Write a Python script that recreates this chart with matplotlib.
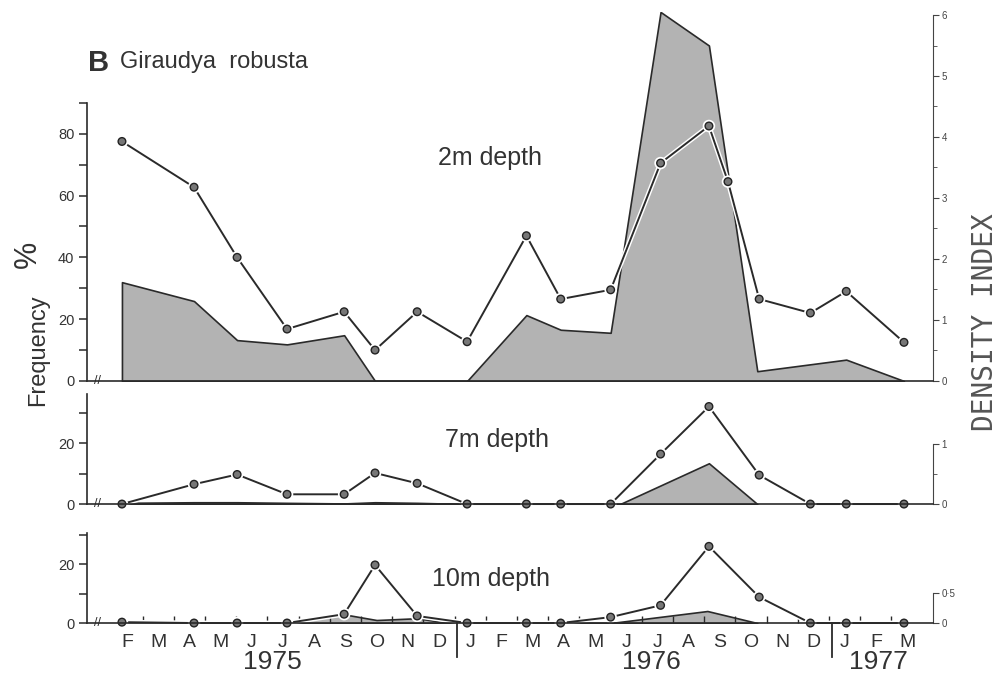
import matplotlib.pyplot as plt
import matplotlib.patheffects as pe
from matplotlib.ticker import FixedLocator, FuncFormatter

plt.rcParams['font.family'] = ['Liberation Sans', 'DejaVu Sans']

# x positions are month indices: 0 = Feb 1975 ... 25 = Mar 1977
month_letters = list("FMAMJJASONDJFMAMJJASONDJFM")
years = ['1975', '1976', '1977']
year_centres = [4.65, 16.8, 24.07]
year_breaks = [10.58, 22.6]

# sampling dates (month index)
sample_month = [-0.16, 2.15, 3.53, 5.13, 6.96, 7.95, 9.3, 10.9, 12.8,
                13.9, 15.5, 17.1, 18.65, 20.26, 21.9, 23.05, 24.9]

# 2m depth: frequency % (line) and density index (shaded)
freq_2m_month = [-0.16, 2.15, 3.53, 5.13, 6.96, 7.95, 9.3, 10.9, 12.8,
                 13.9, 15.5, 17.1, 18.65, 19.26, 20.26, 21.9, 23.05, 24.9]
freq_2m = [77.5, 62.7, 40, 16.8, 22.4, 10, 22.4, 12.7, 47,
           26.5, 29.5, 70.5, 82.5, 64.5, 26.5, 22, 29, 12.5]
dens_2m_month = [-0.16, 2.15, 3.53, 5.13, 6.96, 7.95, 10.9, 12.8, 13.9,
                 15.5, 17.1, 18.65, 20.2, 23.05, 24.9]
dens_2m = [1.62, 1.31, 0.67, 0.6, 0.75, 0, 0, 1.08, 0.84,
           0.79, 6.05, 5.5, 0.16, 0.35, 0]

# 7m depth
freq_7m = [0, 6.5, 9.7, 3.2, 3.2, 10.2, 6.8, 0, 0,
           0, 0, 16.4, 32, 9.5, 0, 0, 0]
dens_7m_month = [-0.16, 2.15, 3.53, 5.13, 6.96, 7.95, 9.3, 10.9, 15.8, 18.65, 20.2]
dens_7m = [0.02, 0.03, 0.03, 0.02, 0.01, 0.03, 0.02, 0, 0, 0.68, 0]

# 10m depth
freq_10m = [0.3, 0, 0, 0, 3, 19.7, 2.4, 0, 0,
            0, 2, 6, 26, 8.8, 0, 0, 0]
dens_10m_month = [5.1, 6.9, 8.0, 9.3, 10.3, 15.5, 18.6, 20.2]
dens_10m = [0, 0.15, 0.05, 0.08, 0, 0, 0.2, 0]

ink = '#2a2a2a'
halo = [pe.Stroke(linewidth=3.5, foreground='white'), pe.Normal()]
dot_fmt = FuncFormatter(lambda v, p: ('%g' % v).replace('.', '\u00b7'))

fig = plt.figure(figsize=(10, 6.83), dpi=100)


def panel(rect, line_x, line_y, dens_x, dens_y, fmax, fspine, fmajor, fminor,
          dmax, dspine, dmajor, dminor, label, label_xy):
    ax = fig.add_axes(rect)
    axd = ax.twinx()
    ax.set_zorder(axd.get_zorder() + 1)
    ax.patch.set_visible(False)

    # density index as shaded area
    axd.fill_between(dens_x, dens_y, 0, facecolor='#b3b3b3',
                     edgecolor=ink, linewidth=1.2)
    # frequency as line with dots
    ax.plot(line_x, line_y, color=ink, linewidth=1.4, marker='o',
            markersize=5.5, markerfacecolor='#777777', markeredgecolor='#222222',
            clip_on=False, path_effects=halo)

    ax.set_xlim(-1.28, 25.83)
    ax.set_ylim(0, fmax)
    axd.set_ylim(0, dmax)

    for s in ['top', 'right']:
        ax.spines[s].set_visible(False)
    for s in ['top', 'left', 'bottom']:
        axd.spines[s].set_visible(False)
    ax.spines['left'].set_bounds(0, fspine)
    axd.spines['right'].set_bounds(0, dspine)
    for s in ['left', 'bottom']:
        ax.spines[s].set_color(ink)
        ax.spines[s].set_linewidth(1.2)
    axd.spines['right'].set_color('#444444')

    ax.yaxis.set_major_locator(FixedLocator(fmajor))
    ax.yaxis.set_minor_locator(FixedLocator(fminor))
    ax.tick_params(axis='y', which='both', direction='out', length=6,
                   width=1.1, color=ink, labelsize=10.5, labelcolor='#333333', pad=3)
    axd.yaxis.set_major_locator(FixedLocator(dmajor))
    axd.yaxis.set_minor_locator(FixedLocator(dminor))
    axd.yaxis.set_major_formatter(dot_fmt)
    axd.tick_params(axis='y', which='major', length=4, labelsize=7,
                    color='#444444', labelcolor='#444444', pad=2)
    axd.tick_params(axis='y', which='minor', length=3, color='#444444')
    ax.tick_params(axis='x', which='both', length=0, labelbottom=False)

    # axis break marks
    ax.text(-0.95, 0, '//', ha='center', va='center', fontsize=9,
            color=ink, clip_on=False)
    fig.text(label_xy[0], label_xy[1], label, ha='center', va='center',
             fontsize=18, color='#333333')
    return ax


panel([0.087, 0.4422, 0.846, 0.5403], freq_2m_month, freq_2m,
      dens_2m_month, dens_2m, 119.4, 90, [0, 20, 40, 60, 80], [10, 30, 50, 70, 90],
      6.05, 6, [0, 1, 2, 3, 4, 5, 6], [0.5, 1.5, 2.5, 3.5, 4.5, 5.5],
      '2m depth', (0.49, 0.769))
panel([0.087, 0.262, 0.846, 0.1669], sample_month, freq_7m,
      dens_7m_month, dens_7m, 37.4, 36, [0, 20], [10, 30],
      1.9, 1, [0, 1], [0.5], '7m depth', (0.497, 0.356))
ax = panel([0.087, 0.0878, 0.846, 0.139], sample_month, freq_10m,
           dens_10m_month, dens_10m, 32.2, 30.5, [0, 20], [10, 30],
           1.58, 0.5, [0, 0.5], [], '10m depth', (0.491, 0.152))

# month letters and year labels under the bottom panel
ax.set_xticks(range(len(month_letters)))
ax.set_xticklabels(month_letters)
ax.set_xticks([k + 0.5 for k in range(len(month_letters) - 1)], minor=True)
ax.tick_params(axis='x', which='major', length=0, labelbottom=True,
               labelsize=14, labelcolor='#333333', pad=8)
ax.tick_params(axis='x', which='minor', direction='in', length=5,
               width=1, color=ink)
for yr, xc in zip(years, year_centres):
    ax.text(xc, -0.41, yr, transform=ax.get_xaxis_transform(), ha='center',
            va='center', fontsize=19, color='#333333')
for xb in year_breaks:
    ax.plot([xb, xb], [0, -0.36], transform=ax.get_xaxis_transform(),
            color=ink, linewidth=1.3, clip_on=False)

# titles and axis names
fig.text(0.088, 0.896, 'B', fontsize=21, fontweight='bold', color='#333333',
         va='baseline')
fig.text(0.12, 0.90, 'Giraudya  robusta', fontsize=17, color='#333333',
         va='baseline')
fig.text(0.038, 0.487, 'Frequency', rotation=90, ha='center', va='center',
         fontsize=17, color='#333333')
fig.text(0.028, 0.627, '%', rotation=90, ha='center', va='center',
         fontsize=22, color='#333333')
fig.text(0.985, 0.529, 'DENSITY INDEX', rotation=90, ha='center', va='center',
         fontsize=20, family='DejaVu Sans Mono', color='#555555')

fig.savefig('out.png', dpi=100, facecolor='white')
